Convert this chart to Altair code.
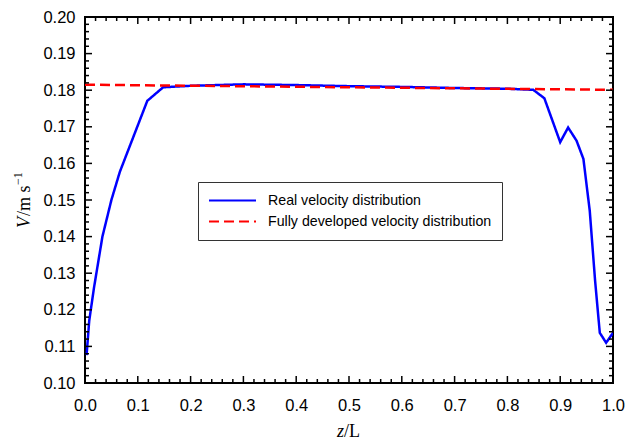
import altair as alt
import pandas as pd

# ---- data ----
z_real = [0.003, 0.008, 0.017, 0.033, 0.050, 0.066, 0.118, 0.148, 0.200, 0.300,
          0.400, 0.500, 0.600, 0.700, 0.800, 0.849, 0.870, 0.900, 0.915, 0.931,
          0.944, 0.956, 0.966, 0.975, 0.987, 1.000]
v_real = [0.1076, 0.1170, 0.1260, 0.1400, 0.1500, 0.1577, 0.1771, 0.1808, 0.1812, 0.1816,
          0.1814, 0.1811, 0.1809, 0.1806, 0.1804, 0.1801, 0.1778, 0.1658, 0.1698, 0.1662,
          0.1612, 0.1470, 0.1281, 0.1137, 0.1110, 0.1137]
z_dev = [0.0, 1.0]
v_dev = [0.1815, 0.1801]

series_names = ["Real velocity distribution", "Fully developed velocity distribution"]
series_colors = ["#0000ff", "#ff0000"]

x_major = [round(i * 0.1, 1) for i in range(11)]
x_minor = [round(i * 0.02, 2) for i in range(51) if i % 5 != 0]
y_major = [round(0.10 + i * 0.01, 2) for i in range(11)]
y_minor = [round(0.10 + i * 0.002, 3) for i in range(51) if i % 5 != 0]

W, H = 528, 366
MAJOR, MINOR = 7, 4

df = pd.concat([
    pd.DataFrame({"z": z_real, "v": v_real, "series": series_names[0]}),
    pd.DataFrame({"z": z_dev, "v": v_dev, "series": series_names[1]}),
], ignore_index=True)

xs = alt.Scale(domain=[0, 1], nice=False, zero=False)
ys = alt.Scale(domain=[0.10, 0.20], nice=False, zero=False)

LABEL_FONT = "Liberation Sans"

legend = alt.Legend(
    title=None, orient="none", legendX=113, legendY=165,
    strokeColor="#333333", fillColor="white", padding=10,
    symbolType="stroke", symbolSize=2209, symbolStrokeWidth=2,
    clipHeight=17,
    labelFont=LABEL_FONT, labelFontSize=14.2, labelColor="black",
    labelOffset=11, rowPadding=4, labelLimit=400,
)

lines = alt.Chart(df).mark_line(strokeWidth=2.5, clip=True).encode(
    x=alt.X("z:Q", scale=xs, axis=alt.Axis(
        orient="bottom", values=x_major, format=".1f", title=None, grid=False,
        domain=False, ticks=False, labelPadding=14, labelFont=LABEL_FONT,
        labelFontSize=16.5, labelColor="black", labelFlush=False)),
    y=alt.Y("v:Q", scale=ys, axis=alt.Axis(
        orient="left", values=y_major, format=".2f", title=None, grid=False,
        domain=False, ticks=False, labelPadding=10, labelFont=LABEL_FONT,
        labelFontSize=16.5, labelColor="black", labelFlush=False)),
    color=alt.Color("series:N", scale=alt.Scale(domain=series_names, range=series_colors),
                    legend=legend),
    strokeDash=alt.StrokeDash("series:N", scale=alt.Scale(domain=series_names,
                              range=[[1, 0], [10, 5]]), legend=legend),
    order=alt.Order("z:Q"),
)


def x_ticks(vals, size):
    d = pd.DataFrame({"t": vals})
    base = alt.Chart(d).mark_rule(color="black", strokeWidth=1.5)
    bottom = base.encode(x=alt.X("t:Q", scale=xs, axis=None),
                         y=alt.value(H), y2=alt.value(H - size))
    top = base.encode(x=alt.X("t:Q", scale=xs, axis=None),
                      y=alt.value(0), y2=alt.value(size))
    return [bottom, top]


def y_ticks(vals, size):
    d = pd.DataFrame({"t": vals})
    base = alt.Chart(d).mark_rule(color="black", strokeWidth=1.5)
    left = base.encode(y=alt.Y("t:Q", scale=ys, axis=None),
                       x=alt.value(0), x2=alt.value(size))
    right = base.encode(y=alt.Y("t:Q", scale=ys, axis=None),
                        x=alt.value(W), x2=alt.value(W - size))
    return [left, right]


ticks = (x_ticks(x_major, MAJOR) + x_ticks(x_minor, MINOR)
         + y_ticks(y_major, MAJOR) + y_ticks(y_minor, MINOR))

one = alt.Data(values=[{"k": 1}])
SERIF = "Liberation Serif"


def label(text, x, y, size=18, style="normal", angle=0, align="left"):
    return alt.Chart(one).mark_text(
        text=text, font=SERIF, fontSize=size, fontStyle=style, angle=angle,
        align=align, baseline="alphabetic", color="black").encode(
        x=alt.value(x), y=alt.value(y))


xt1 = label("z", 259, 420, style="italic", align="right")
xt2 = label("/L", 259, 420)
yt1 = label("V", -55, 211, style="italic", angle=270)
yt2 = label("/m s", -55, 199, angle=270)
yt3 = label("\u22121", -63, 168, size=12, angle=270)

chart = alt.layer(lines, *ticks, xt1, xt2, yt1, yt2, yt3).resolve_axis(
    x="independent", y="independent"
).properties(
    width=W, height=H,
    padding={"left": 77, "top": 9, "right": 18, "bottom": 62},
    autosize=alt.AutoSizeParams(type="none"),
    background="white",
).configure_view(stroke="black", strokeWidth=2)

chart.save("out.html", embed_options={"renderer": "svg", "actions": False})
